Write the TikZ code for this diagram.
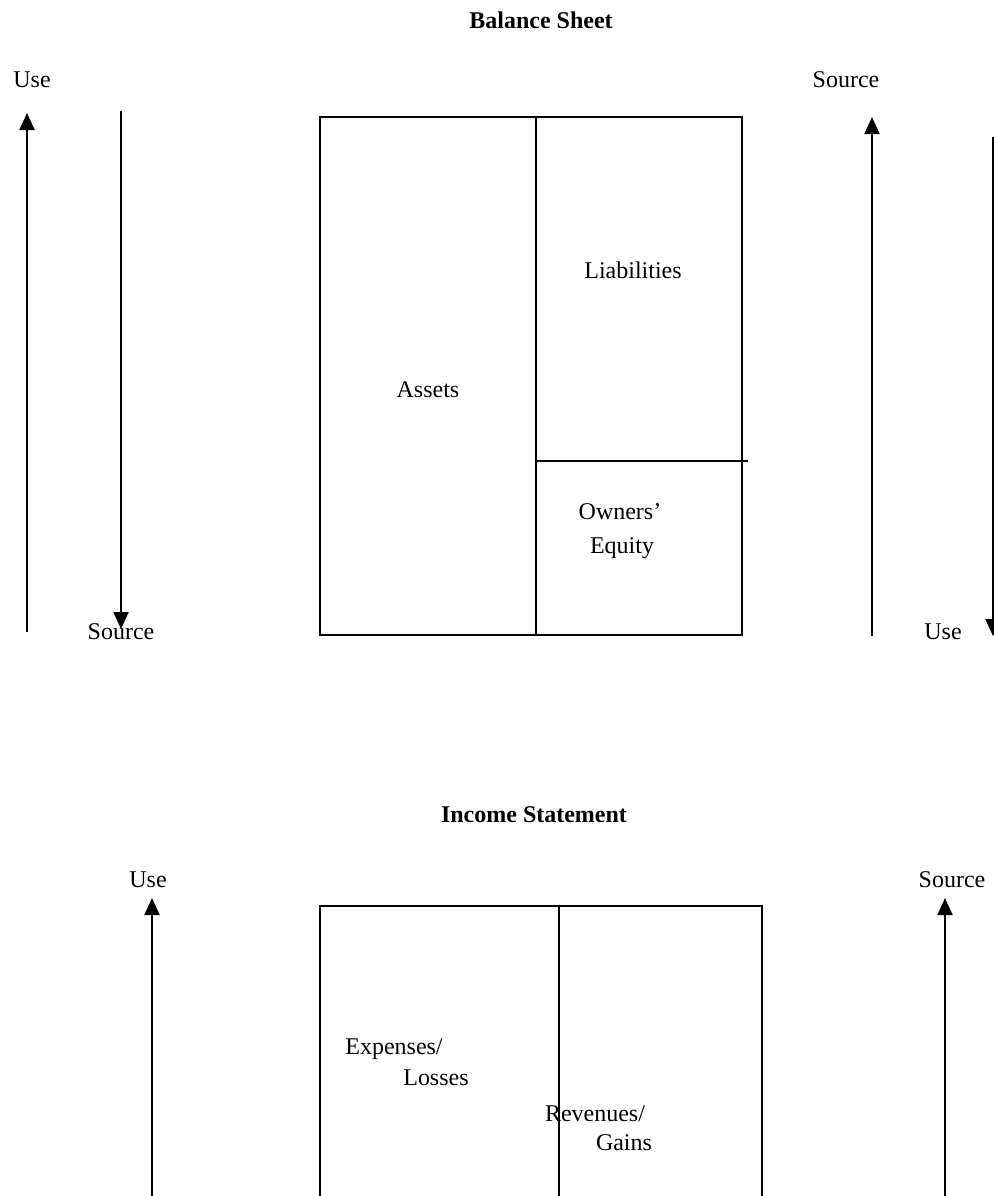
\documentclass[tikz,border=0pt]{standalone}
\usepackage{fontspec}
\setmainfont{Liberation Serif}
\usetikzlibrary{arrows.meta}

\tikzset{
    flow/.style={line width=1pt, -{Triangle[width=7.5pt,length=8.5pt]}},
    frame/.style={line width=0.9pt},
    lbl/.style={inner sep=0pt, font=\fontsize{12}{14}\selectfont},
    heading/.style={inner sep=0pt, font=\fontsize{12}{14}\selectfont\bfseries}
}

\begin{document}
\begin{tikzpicture}[x=0.5pt, y=-0.5pt]
        \useasboundingbox (0,0) rectangle (994,1196);

        % --- BALANCE SHEET ---
        \node[heading] (bshead) at (541, 20) {Balance Sheet};
        \node[lbl] (bsuse1) at (32, 80) {Use};
        \node[lbl] (bssrc1) at (121, 632) {Source};
        \node[lbl] (bssrc2) at (846, 80) {Source};
        \node[lbl] (bsuse2) at (943, 632) {Use};

        % arrows
        \coordinate (a1s) at (27, 632);  \coordinate (a1e) at (27, 113);
        \coordinate (a2s) at (121, 111); \coordinate (a2e) at (121, 629);
        \coordinate (a3s) at (872, 636); \coordinate (a3e) at (872, 117);
        \coordinate (a4s) at (993, 137); \coordinate (a4e) at (993, 636);
        \foreach \p in {a1, a2, a3, a4} {
            \draw[flow] (\p s) -- (\p e);
        }

        % Balance sheet box
        \coordinate (bstl) at (320, 117);
        \coordinate (bsbr) at (742, 635);
        \draw[frame] (bstl) rectangle (bsbr);
        \coordinate (bsmt) at (536, 117); \coordinate (bsmb) at (536, 635);
        \draw[frame] (bsmt) -- (bsmb);
        \coordinate (eqa) at (536, 461); \coordinate (eqb) at (748, 461);
        \draw[frame] (eqa) -- (eqb);

        \node[lbl] (assets) at (428, 390) {Assets};
        \node[lbl] (liab) at (633, 270) {Liabilities};
        \node[lbl] (owners) at (620, 512) {Owners’};
        \node[lbl] (equity) at (622, 548) {Equity};

        % --- INCOME STATEMENT ---
        \node[heading] (ishead) at (534, 815) {Income Statement};
        \node[lbl] (isuse) at (148, 880) {Use};
        \node[lbl] (issrc) at (952, 880) {Source};

        \coordinate (b1s) at (152, 1196); \coordinate (b1e) at (152, 898);
        \coordinate (b2s) at (945, 1196); \coordinate (b2e) at (945, 898);
        \foreach \p in {b1, b2} {
            \draw[flow] (\p s) -- (\p e);
        }

        % Income statement box (runs off the bottom)
        \coordinate (isbl) at (320, 1196); \coordinate (istl) at (320, 906);
        \coordinate (istr) at (762, 906);  \coordinate (isbr) at (762, 1196);
        \draw[frame] (isbl) -- (istl) -- (istr) -- (isbr);
        \coordinate (ismt) at (559, 906); \coordinate (ismb) at (559, 1196);
        \draw[frame] (ismt) -- (ismb);

        \node[lbl] (expenses) at (394, 1049) {Expenses/};
        \node[lbl] (losses) at (436, 1078) {Losses};
        \node[lbl] (revenues) at (595, 1114) {Revenues/};
        \node[lbl] (gains) at (624, 1143) {Gains};

\end{tikzpicture}
\end{document}
